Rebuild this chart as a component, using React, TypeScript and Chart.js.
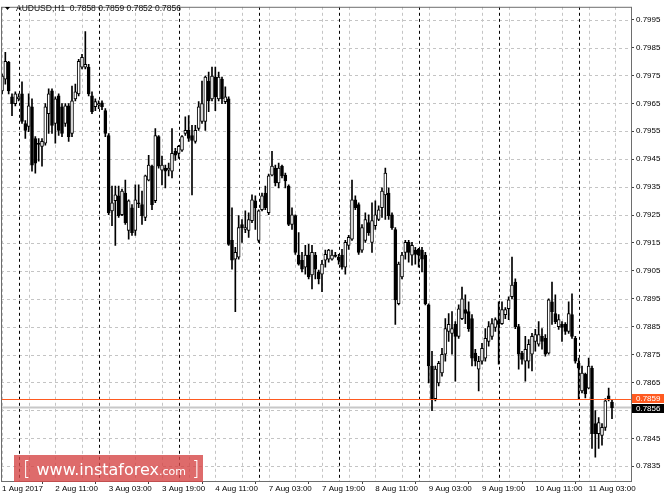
import React, { useEffect, useRef } from 'react';
import { Chart, registerables } from 'chart.js';

Chart.register(...registerables);

const chartTitle = 'AUDUSD,H1';
const lastQuote = ['0.7858', '0.7859', '0.7852', '0.7856'];

const openPrices = [
  0.79695, 0.79737, 0.79797, 0.79673, 0.79649, 0.79666, 0.79684, 0.79578, 0.79567, 0.79638,
  0.79524, 0.79507, 0.79496, 0.79507, 0.79613, 0.79695, 0.79578, 0.79677, 0.79638, 0.79578,
  0.79641, 0.79542, 0.79666, 0.79684, 0.7978, 0.7978, 0.7978, 0.79677, 0.79638, 0.79645,
  0.79652, 0.79624, 0.79535, 0.79265, 0.79301, 0.79319, 0.79251, 0.79329, 0.79195, 0.79276,
  0.79195, 0.79294, 0.79287, 0.79241, 0.79375, 0.79425, 0.79301, 0.79531, 0.79411, 0.79418,
  0.79411, 0.79407, 0.79478, 0.79471, 0.79482, 0.79542, 0.79553, 0.79535, 0.79514, 0.7956,
  0.79585, 0.79585, 0.7973, 0.79666, 0.79744, 0.79666, 0.79737, 0.79656, 0.79666, 0.79159,
  0.79092, 0.79099, 0.79216, 0.79198, 0.79195, 0.7923, 0.79301, 0.79159, 0.79269, 0.79329,
  0.79258, 0.79393, 0.79418, 0.79365, 0.79425, 0.79393, 0.79354, 0.79216, 0.79248, 0.79106,
  0.79088, 0.79063, 0.79106, 0.79035, 0.79106, 0.79046, 0.79038, 0.79088, 0.79092, 0.79092,
  0.79106, 0.79099, 0.79106, 0.79063, 0.79141, 0.79163, 0.79304, 0.79287, 0.79124, 0.79159,
  0.79223, 0.79152, 0.79212, 0.79234, 0.79276, 0.79322, 0.79329, 0.79251, 0.79198, 0.78932,
  0.79028, 0.79116, 0.79152, 0.79106, 0.79124, 0.79127, 0.79124, 0.79106, 0.78928, 0.78709,
  0.78592, 0.78648, 0.78684, 0.78751, 0.78833, 0.78826, 0.78858, 0.78815, 0.78879, 0.78911,
  0.78904, 0.78879, 0.78755, 0.78698, 0.78726, 0.78737, 0.78797, 0.78815, 0.78847, 0.78872,
  0.78861, 0.78893, 0.78914, 0.78957, 0.7901, 0.7885, 0.78755, 0.78726, 0.78726, 0.78751,
  0.78797, 0.78787, 0.78815, 0.78808, 0.78755, 0.78939, 0.78897, 0.7885, 0.78858, 0.78858,
  0.78833, 0.78893, 0.78808, 0.78719, 0.7862, 0.7868, 0.7863, 0.78701, 0.78503, 0.78467,
  0.7846, 0.78489, 0.78602, 0.7858,
];

const highPrices = [
  0.79755, 0.79833, 0.79801, 0.79684, 0.79691, 0.79684, 0.79727, 0.79588, 0.79684, 0.79666,
  0.79531, 0.79524, 0.79524, 0.79649, 0.79702, 0.79702, 0.79673, 0.79684, 0.79649, 0.79649,
  0.79649, 0.79712, 0.79719, 0.79808, 0.79826, 0.79907, 0.7979, 0.79691, 0.79666, 0.79659,
  0.79659, 0.79631, 0.79542, 0.79354, 0.79354, 0.79354, 0.79343, 0.79375, 0.79304, 0.79287,
  0.79358, 0.79358, 0.79336, 0.79393, 0.79464, 0.79429, 0.7956, 0.79535, 0.79461, 0.79429,
  0.79436, 0.7956, 0.79489, 0.795, 0.79535, 0.79602, 0.79606, 0.79571, 0.79571, 0.79656,
  0.7973, 0.79748, 0.79762, 0.7978, 0.7978, 0.79762, 0.79744, 0.79709, 0.79673, 0.79276,
  0.79134, 0.79248, 0.79234, 0.79265, 0.79258, 0.79322, 0.79319, 0.79269, 0.79329, 0.79354,
  0.79397, 0.79478, 0.79429, 0.79436, 0.79429, 0.794, 0.79358, 0.79276, 0.79251, 0.79187,
  0.79116, 0.79141, 0.79145, 0.79141, 0.79116, 0.79053, 0.79088, 0.79124, 0.79127, 0.79124,
  0.79116, 0.79109, 0.79127, 0.79159, 0.79177, 0.79375, 0.79319, 0.79294, 0.79216, 0.79258,
  0.79251, 0.79294, 0.79301, 0.79283, 0.79347, 0.79418, 0.79347, 0.79258, 0.79205, 0.79081,
  0.79116, 0.79159, 0.79159, 0.79152, 0.79134, 0.79131, 0.79134, 0.79116, 0.78932, 0.78762,
  0.78709, 0.78726, 0.78772, 0.78879, 0.78897, 0.78904, 0.78868, 0.78928, 0.78992, 0.78964,
  0.78939, 0.78893, 0.78769, 0.78744, 0.7879, 0.78843, 0.78868, 0.78879, 0.78882, 0.78939,
  0.78939, 0.78918, 0.78957, 0.79099, 0.79021, 0.78858, 0.78762, 0.78815, 0.78804, 0.78826,
  0.7884, 0.78868, 0.78843, 0.78822, 0.7895, 0.7901, 0.78964, 0.78893, 0.78868, 0.78865,
  0.78939, 0.78968, 0.78815, 0.78737, 0.78709, 0.78684, 0.78737, 0.78709, 0.78549, 0.78524,
  0.78503, 0.78592, 0.7863, 0.7859,
];

const lowPrices = [
  0.79684, 0.79719, 0.79684, 0.79606, 0.79641, 0.79659, 0.79578, 0.79524, 0.79549, 0.79407,
  0.794, 0.79443, 0.79425, 0.795, 0.79542, 0.79542, 0.79507, 0.79535, 0.79531, 0.79567,
  0.79514, 0.79531, 0.79659, 0.79677, 0.79773, 0.79773, 0.79677, 0.79613, 0.79624, 0.79631,
  0.79627, 0.79531, 0.79251, 0.79212, 0.79141, 0.79241, 0.79248, 0.79216, 0.79163, 0.79177,
  0.79177, 0.79276, 0.79216, 0.7923, 0.79372, 0.79269, 0.79294, 0.79418, 0.79358, 0.79347,
  0.7939, 0.79383, 0.79446, 0.79453, 0.79478, 0.79535, 0.79514, 0.79322, 0.79507, 0.79553,
  0.79578, 0.79553, 0.7962, 0.79659, 0.79624, 0.79659, 0.79649, 0.79649, 0.79141, 0.79056,
  0.78904, 0.79092, 0.79152, 0.79187, 0.7917, 0.79223, 0.79198, 0.79152, 0.79265, 0.79269,
  0.79251, 0.7939, 0.79354, 0.79347, 0.79383, 0.79347, 0.79212, 0.79198, 0.79109, 0.7907,
  0.79046, 0.79038, 0.79021, 0.78985, 0.79021, 0.79003, 0.78975, 0.79063, 0.79081, 0.79088,
  0.79099, 0.79074, 0.79056, 0.79038, 0.79127, 0.79159, 0.79269, 0.79109, 0.79116, 0.79152,
  0.79177, 0.79116, 0.79198, 0.7923, 0.79241, 0.79234, 0.79234, 0.79198, 0.78858, 0.78928,
  0.79021, 0.79092, 0.79081, 0.7907, 0.79074, 0.79063, 0.79046, 0.78928, 0.78648, 0.78549,
  0.78584, 0.78638, 0.78673, 0.78726, 0.78797, 0.78751, 0.78655, 0.78808, 0.78875, 0.78861,
  0.78833, 0.78709, 0.78709, 0.7862, 0.78716, 0.78726, 0.7878, 0.78804, 0.78833, 0.78716,
  0.78858, 0.78879, 0.78875, 0.7895, 0.78843, 0.78698, 0.78716, 0.78655, 0.78701, 0.78691,
  0.78762, 0.7878, 0.78769, 0.78744, 0.78751, 0.78858, 0.78861, 0.7884, 0.78797, 0.78822,
  0.78826, 0.78808, 0.78719, 0.78592, 0.78613, 0.78595, 0.78627, 0.78414, 0.78382, 0.78414,
  0.78425, 0.78478, 0.78584, 0.7852,
];

const closePrices = [
  0.79748, 0.79801, 0.79695, 0.79649, 0.79684, 0.79673, 0.79585, 0.79553, 0.79641, 0.79429,
  0.79436, 0.79503, 0.79514, 0.79638, 0.79684, 0.79571, 0.79666, 0.79553, 0.79542, 0.79641,
  0.79531, 0.79659, 0.79691, 0.79801, 0.79815, 0.7979, 0.79684, 0.7962, 0.79656, 0.79649,
  0.79638, 0.79542, 0.79258, 0.79294, 0.79322, 0.79248, 0.79336, 0.79223, 0.79301, 0.79187,
  0.79304, 0.7929, 0.79248, 0.7939, 0.79429, 0.79287, 0.79535, 0.79425, 0.79429, 0.79407,
  0.79418, 0.79471, 0.79464, 0.79496, 0.79531, 0.79553, 0.79524, 0.79517, 0.79553, 0.79638,
  0.79649, 0.79744, 0.79659, 0.79748, 0.79673, 0.79744, 0.79666, 0.79673, 0.79145, 0.79088,
  0.79116, 0.79205, 0.79205, 0.79205, 0.79234, 0.79304, 0.79276, 0.79265, 0.79319, 0.79276,
  0.7939, 0.79425, 0.79365, 0.79418, 0.7939, 0.79372, 0.79216, 0.79251, 0.79116, 0.79074,
  0.79056, 0.79106, 0.79028, 0.79116, 0.79056, 0.79021, 0.79074, 0.79109, 0.79124, 0.79106,
  0.79102, 0.79088, 0.79063, 0.79152, 0.7917, 0.79304, 0.79276, 0.79116, 0.79205, 0.79234,
  0.79187, 0.7923, 0.79251, 0.79269, 0.79336, 0.794, 0.79248, 0.79205, 0.78946, 0.79074,
  0.79106, 0.79152, 0.79116, 0.79141, 0.79109, 0.79106, 0.79092, 0.78932, 0.78709, 0.78592,
  0.78698, 0.78719, 0.78751, 0.78843, 0.78858, 0.78843, 0.78815, 0.78914, 0.7895, 0.78897,
  0.78843, 0.78737, 0.78726, 0.78726, 0.78772, 0.78808, 0.7885, 0.78861, 0.78875, 0.78858,
  0.78911, 0.78911, 0.78946, 0.78999, 0.7885, 0.78751, 0.78733, 0.78769, 0.78787, 0.78815,
  0.78822, 0.78822, 0.78797, 0.78751, 0.78946, 0.78904, 0.78868, 0.78875, 0.78847, 0.78833,
  0.78897, 0.78815, 0.78726, 0.78701, 0.78684, 0.78609, 0.78709, 0.78467, 0.78467, 0.78506,
  0.78489, 0.78584, 0.78592, 0.7856,
];

const xTickBars = [0, 8, 16, 24, 32, 40, 48, 56, 64, 72, 80, 88, 96, 104, 112, 120, 128, 136, 144, 152, 160, 168, 176, 184];
const xTickLabels = [
  '1 Aug 2017', '', '2 Aug 11:00', '', '3 Aug 03:00', '', '3 Aug 19:00', '', '4 Aug 11:00', '',
  '7 Aug 03:00', '', '7 Aug 19:00', '', '8 Aug 11:00', '', '9 Aug 03:00', '', '9 Aug 19:00', '',
  '10 Aug 11:00', '', '11 Aug 03:00', '',
];
const daySeparatorBars = [5, 29, 53, 77, 101, 125, 149, 173];

const priceTicks = [
  0.7835, 0.7845, 0.7855, 0.7865, 0.7875, 0.7885, 0.7895, 0.7905, 0.7915,
  0.7925, 0.7935, 0.7945, 0.7955, 0.7965, 0.7975, 0.7985, 0.7995,
];
const priceTickLabels = [
  '0.7835', '0.7845', '', '0.7865', '0.7875', '0.7885', '0.7895', '0.7905', '0.7915',
  '0.7925', '0.7935', '0.7945', '0.7955', '0.7965', '0.7975', '0.7985', '0.7995',
];
const askPrice = 0.7859;
const askLabel = '0.7859';
const bidPrice = 0.7856;
const bidLabel = '0.7856';

const priceMin = 0.78297;
const priceMax = 0.79996;
const barMin = -0.3;
const barMax = 188.7;

const FONT = '"Liberation Sans", Arial, sans-serif';
const ORANGE = '#ff5a20';

const mtPlugin = {
  id: 'mtDecor',
  beforeDatasetsDraw(chart: any) {
    const { ctx, chartArea, scales } = chart;
    const xs = scales.x;
    const ys = scales.y;
    ctx.save();
    ctx.beginPath();
    ctx.rect(chartArea.left, chartArea.top, chartArea.right - chartArea.left, chartArea.bottom - chartArea.top);
    ctx.clip();
    // dashed grid
    ctx.strokeStyle = '#c4c4c4';
    ctx.lineWidth = 1;
    ctx.setLineDash([3, 3]);
    xs.ticks.forEach((t: any) => {
      const px = Math.round(xs.getPixelForValue(t.value)) + 0.5;
      ctx.beginPath();
      ctx.moveTo(px, chartArea.top);
      ctx.lineTo(px, chartArea.bottom);
      ctx.stroke();
    });
    ys.ticks.forEach((t: any) => {
      const py = Math.round(ys.getPixelForValue(t.value)) + 0.5;
      ctx.beginPath();
      ctx.moveTo(chartArea.left, py);
      ctx.lineTo(chartArea.right, py);
      ctx.stroke();
    });
    // day separators
    ctx.strokeStyle = '#000000';
    daySeparatorBars.forEach((b) => {
      const px = Math.round(xs.getPixelForValue(b)) + 0.5;
      ctx.beginPath();
      ctx.moveTo(px, chartArea.top);
      ctx.lineTo(px, chartArea.bottom);
      ctx.stroke();
    });
    ctx.setLineDash([]);
    // bid line
    const by = ys.getPixelForValue(bidPrice);
    ctx.strokeStyle = '#c8c8c8';
    ctx.lineWidth = 2;
    ctx.beginPath();
    ctx.moveTo(chartArea.left, by);
    ctx.lineTo(chartArea.right, by);
    ctx.stroke();
    ctx.restore();
  },
  afterDatasetsDraw(chart: any) {
    const { ctx, chartArea, scales } = chart;
    const ys = scales.y;
    ctx.save();
    const ay = Math.round(ys.getPixelForValue(askPrice)) + 0.5;
    ctx.strokeStyle = ORANGE;
    ctx.lineWidth = 1;
    ctx.setLineDash([]);
    ctx.beginPath();
    ctx.moveTo(chartArea.left, ay);
    ctx.lineTo(chartArea.right, ay);
    ctx.stroke();
    ctx.restore();
  },
  afterDraw(chart: any) {
    const { ctx, chartArea, scales, width } = chart;
    const ys = scales.y;
    ctx.save();
    // frame
    ctx.strokeStyle = '#6e6e6e';
    ctx.lineWidth = 1;
    ctx.strokeRect(chartArea.left + 0.5, chartArea.top + 0.5, chartArea.right - chartArea.left, chartArea.bottom - chartArea.top);
    // price labels
    ctx.font = `8px ${FONT}`;
    ctx.textBaseline = 'middle';
    ctx.textAlign = 'left';
    const ay = ys.getPixelForValue(askPrice);
    ctx.fillStyle = ORANGE;
    ctx.fillRect(chartArea.right + 1, Math.round(ay) - 5, width - chartArea.right - 1, 9);
    ctx.fillStyle = '#ffffff';
    ctx.fillText(askLabel, chartArea.right + 5, Math.round(ay));
    const by = ys.getPixelForValue(bidPrice);
    ctx.fillStyle = '#000000';
    ctx.fillRect(chartArea.right + 1, Math.round(by) - 4, width - chartArea.right - 1, 9);
    ctx.fillStyle = '#ffffff';
    ctx.fillText(bidLabel, chartArea.right + 5, Math.round(by) + 1);
    // title
    ctx.fillStyle = '#000000';
    ctx.beginPath();
    ctx.moveTo(5, 7);
    ctx.lineTo(10, 7);
    ctx.lineTo(7.5, 10);
    ctx.closePath();
    ctx.fill();
    ctx.fillStyle = '#111111';
    ctx.font = `8.5px ${FONT}`;
    ctx.fillText(`${chartTitle}  ${lastQuote.join(' ')}`, 16, 9);
    ctx.restore();
  },
};

export default function App() {
  const canvasRef = useRef<HTMLCanvasElement | null>(null);

  useEffect(() => {
    const canvas = canvasRef.current;
    if (!canvas) return;
    const bodies = openPrices.map((o, i) => ({ x: i, y: [o, closePrices[i]] }));
    const wicks = highPrices.map((h, i) => ({ x: i, y: [lowPrices[i], h] }));
    const bodyColors = closePrices.map((c, i) => (c >= openPrices[i] ? '#ffffff' : '#000000'));

    const chart = new Chart(canvas, {
      type: 'bar',
      data: {
        datasets: [
          {
            data: bodies as any,
            backgroundColor: bodyColors,
            borderColor: '#000000',
            borderWidth: 1,
            borderSkipped: false,
            barThickness: 3,
            minBarLength: 1,
            grouped: false,
            order: 0,
          } as any,
          {
            data: wicks as any,
            backgroundColor: '#000000',
            borderWidth: 0,
            barThickness: 1,
            grouped: false,
            order: 1,
          } as any,
        ],
      },
      options: {
        animation: false,
        responsive: false,
        maintainAspectRatio: false,
        events: [],
        layout: { padding: { left: 1, top: 2, right: 0, bottom: 0 } },
        plugins: { legend: { display: false }, tooltip: { enabled: false } },
        scales: {
          x: {
            type: 'linear',
            min: barMin,
            max: barMax,
            offset: false,
            afterBuildTicks: (scale: any) => {
              scale.ticks = xTickBars.map((v) => ({ value: v }));
            },
            afterFit: (scale: any) => {
              scale.height = 17;
            },
            grid: {
              drawOnChartArea: false,
              color: '#c8c8c8',
              lineWidth: 1,
              tickLength: 3,
              tickColor: (c: any) => (xTickLabels[c.index] ? '#444444' : 'rgba(0,0,0,0)'),
            },
            border: { display: false },
            ticks: {
              autoSkip: false,
              maxRotation: 0,
              align: 'start',
              padding: 0,
              color: '#000000',
              font: { family: FONT, size: 8 },
              callback: (_v: any, i: number) => xTickLabels[i],
            },
          },
          y: {
            type: 'linear',
            position: 'right',
            min: priceMin,
            max: priceMax,
            afterBuildTicks: (scale: any) => {
              scale.ticks = priceTicks.map((v) => ({ value: v }));
            },
            afterFit: (scale: any) => {
              scale.width = 33;
            },
            grid: {
              drawOnChartArea: false,
              color: '#c8c8c8',
              lineWidth: 1,
              tickLength: 3,
              tickColor: (c: any) => (priceTickLabels[c.index] ? '#444444' : 'rgba(0,0,0,0)'),
            },
            border: { display: false },
            ticks: {
              autoSkip: false,
              padding: 2,
              color: '#000000',
              font: { family: FONT, size: 8 },
              callback: (_v: any, i: number) => priceTickLabels[i],
            },
          },
        },
      } as any,
      plugins: [mtPlugin],
    });
    return () => chart.destroy();
  }, []);

  return (
    <div style={{ position: 'fixed', left: 0, top: 0, width: 664, height: 498, background: '#ffffff', overflow: 'hidden' }}>
      <canvas ref={canvasRef} width={664} height={498} style={{ display: 'block', width: 664, height: 498 }} />
      <div
        style={{
          position: 'absolute',
          left: 14,
          top: 455,
          width: 189,
          height: 27,
          background: 'rgba(214, 70, 70, 0.8)',
          color: '#ffffff',
          fontFamily: '"DejaVu Sans", Verdana, sans-serif',
          whiteSpace: 'pre',
          lineHeight: '27px',
          boxSizing: 'border-box',
          paddingLeft: 9,
        }}
      >
        <span style={{ fontSize: 19, fontWeight: 300 }}>[ </span>
        <span style={{ fontSize: 16 }}>www.instaforex</span>
        <span style={{ fontSize: 11 }}>.com</span>
        <span style={{ fontSize: 19, fontWeight: 300 }}> ]</span>
      </div>
    </div>
  );
}
